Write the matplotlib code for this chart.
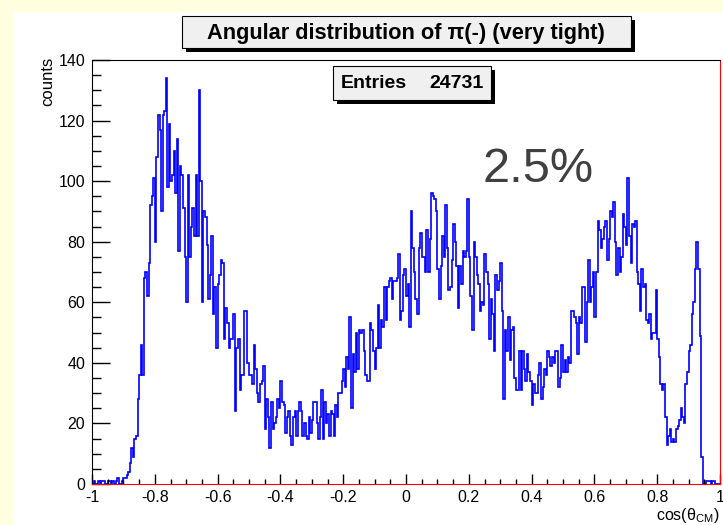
import numpy as np
import matplotlib.pyplot as plt
from matplotlib.patches import Rectangle

plt.rcParams['font.family'] = ['Liberation Sans', 'DejaVu Sans']
plt.rcParams['axes.unicode_minus'] = False
plt.rcParams['mathtext.fontset'] = 'custom'
plt.rcParams['mathtext.rm'] = 'Liberation Sans'
plt.rcParams['mathtext.it'] = 'Liberation Sans:italic'

# histogram contents, 400 bins over [-1, 1]
counts_a = [0, 1, 0, 0, 1, 0, 1, 1, 0, 0, 1, 1, 0, 1, 0, 1, 2, 0, 0, 1, 2,
            2, 3, 4, 7, 12, 9, 15, 16, 28, 36, 46, 36, 68, 70, 62, 73, 92, 95, 101,
            80, 108, 122, 117, 90, 122, 123, 134, 98, 119, 100, 102, 110, 96, 114, 77,
            105, 102, 91, 75, 60, 102, 75, 85, 91, 82, 102, 82]
counts_b = [130, 100, 60, 90, 88, 79, 61, 69, 82, 56, 65, 45, 66, 69, 74, 73, 48, 58,
            53, 45, 48, 48, 56, 24, 45, 48, 31, 36, 36, 57, 57, 40, 36, 36, 33, 46, 38,
            30, 27, 33, 34, 39, 18, 28, 22, 12, 27, 18, 20, 22, 28, 25, 34, 27, 26, 17,
            22, 24, 16, 13, 22, 24, 16, 24, 27, 24, 16, 20]
counts_c = [16, 15, 22, 17, 21, 27, 27, 20, 15, 22, 31, 15, 27, 20, 23, 16, 24, 23, 16,
            26, 22, 30, 30, 34, 38, 32, 42, 38, 55, 25, 43, 37, 50, 38, 51, 50, 51, 44,
            36, 34, 34, 53, 51, 44, 38, 45, 59, 45, 54, 52, 65, 54, 65, 67, 68, 61, 67,
            67, 68, 76, 54, 57, 69, 71, 62, 66]
counts_d = [52, 90, 78, 70, 61, 56, 78, 83, 75, 75, 70, 84, 70, 81, 96, 95, 94, 90, 71,
            61, 72, 82, 75, 92, 78, 64, 65, 74, 86, 80, 72, 58, 72, 66, 77, 75, 77, 94,
            75, 62, 51, 80, 75, 69, 66, 57, 60, 59, 76, 70, 66, 48, 61, 56, 44, 69, 64,
            67, 73, 57, 28, 51, 44, 55, 41, 51, 52]
counts_e = [35, 31, 31, 44, 31, 44, 38, 34, 43, 37, 34, 26, 33, 30, 30, 36, 40, 28, 32,
            38, 36, 44, 42, 39, 42, 40, 44, 44, 32, 35, 46, 37, 41, 37, 42, 40, 57, 57,
            55, 53, 43, 55, 53, 65, 65, 47, 60, 74, 60, 65, 70, 55, 70, 87, 84, 78, 81,
            85, 87, 74, 81, 90, 88, 93, 80, 69, 78]
counts_f = [70, 75, 89, 85, 79, 101, 82, 73, 86, 85, 87, 70, 66, 57, 71, 65, 66, 54, 53,
            56, 48, 50, 50, 64, 48, 42, 33, 31, 33, 22, 13, 16, 18, 14, 15, 14, 18, 19,
            21, 25, 22, 20, 33, 37, 44, 46, 56, 60, 71, 80, 71, 49, 9, 0, 0, 1, 1, 1, 0,
            1, 1, 0, 0, 0]
counts = np.array(counts_a + counts_b + counts_c + counts_d + counts_e + counts_f)
edges = np.linspace(-1, 1, len(counts) + 1)

x_ticks = [-1, -0.8, -0.6, -0.4, -0.2, 0, 0.2, 0.4, 0.6, 0.8, 1]
x_ticklabels = ['-1', '-0.8', '-0.6', '-0.4', '-0.2', '0', '0.2', '0.4', '0.6', '0.8', '1']
y_ticks = [0, 20, 40, 60, 80, 100, 120, 140]

title = 'Angular distribution of π(-) (very tight)'
n_entries = 24731

W, H = 723, 525
fig = plt.figure(figsize=(W / 100, H / 100), dpi=100, facecolor='#ffffe0')


def fx(px):
    return px / W


def fy(py):
    return 1 - py / H


# white pad on the yellow canvas
fig.patches.append(Rectangle((fx(13), 0), 1 - fx(13), fy(12), transform=fig.transFigure,
                             facecolor='white', edgecolor='none', zorder=-5))

ax = fig.add_axes([fx(92), fy(484), fx(720) - fx(92), fy(60) - fy(484)])
ax.set_zorder(2)
ax.patch.set_alpha(0)
ax.stairs(counts, edges, color='#0000ff', lw=1.2, baseline=0)
ax.set_xlim(-1, 1)
ax.set_ylim(0, 140)

ax.set_xticks(x_ticks)
ax.set_xticklabels(x_ticklabels)
ax.set_xticks(np.arange(-1, 1.001, 0.05), minor=True)
ax.set_yticks(y_ticks)
ax.set_yticks(np.arange(0, 141, 5), minor=True)
ax.tick_params(axis='both', which='both', direction='in', labelsize=11.5, width=1)
ax.tick_params(axis='x', which='major', length=7.5, pad=4)
ax.tick_params(axis='x', which='minor', length=3.8)
ax.tick_params(axis='y', which='major', length=13, pad=5)
ax.tick_params(axis='y', which='minor', length=6.5)

for s in ['bottom', 'right']:
    ax.spines[s].set_color('red')
for s in ['top', 'left']:
    ax.spines[s].set_color('black')

fig.text(fx(48), fy(57), 'counts', rotation=90, ha='center', va='top', fontsize=12)
fig.text(fx(720), fy(520), r'cos($\mathrm{\theta_{CM}}$)', ha='right', va='baseline', fontsize=11.5)

# title box with shadow
fig.patches.append(Rectangle((fx(186), fy(52)), fx(631) - fx(182), fy(16) - fy(48),
                             transform=fig.transFigure, facecolor='black', edgecolor='none'))
fig.patches.append(Rectangle((fx(182), fy(48)), fx(631) - fx(182), fy(16) - fy(48),
                             transform=fig.transFigure, facecolor='#f0f0f0', edgecolor='black', lw=0.8))
fig.text(fx(406), fy(33), title, ha='center', va='center', fontsize=15.7, fontweight='bold')

# stats box, above the axes
fig.patches.append(Rectangle((fx(337), fy(104)), fx(491) - fx(333), fy(66) - fy(100),
                             transform=fig.transFigure, facecolor='black', edgecolor='none', zorder=3))
fig.patches.append(Rectangle((fx(333), fy(100)), fx(491) - fx(333), fy(66) - fy(100),
                             transform=fig.transFigure, facecolor='#f0f0f0', edgecolor='black', lw=0.8,
                             zorder=3))
fig.text(fx(341), fy(84), 'Entries', ha='left', va='center', fontsize=14, fontweight='bold', zorder=4)
fig.text(fx(484), fy(84), str(n_entries), ha='right', va='center', fontsize=14, fontweight='bold', zorder=4)

fig.text(fx(483), fy(182), '2.5%', ha='left', va='baseline', fontsize=35, color='#404040', zorder=4)

fig.savefig('out.png', dpi=100, facecolor=fig.get_facecolor())
